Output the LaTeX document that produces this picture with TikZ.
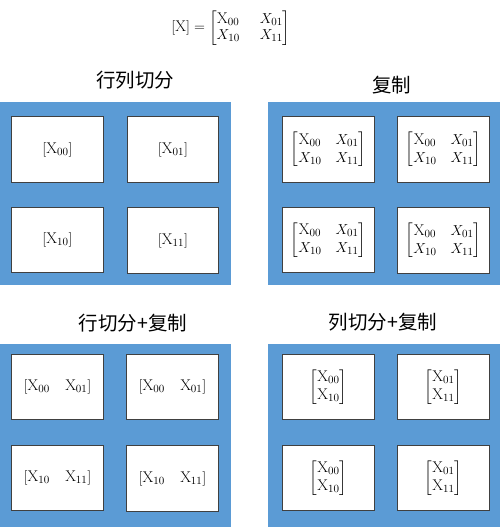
\documentclass[tikz,border=0pt]{standalone}
\usepackage{amsmath}
\usepackage{fontspec}
\newfontfamily\cjk{Noto Sans CJK SC}
\definecolor{panelblue}{HTML}{5B9BD5}
\definecolor{boxline}{HTML}{404040}
\begin{document}
\begin{tikzpicture}[x=1pt,y=-1pt,
  panel/.style={fill=panelblue,draw=none},
  cell/.style={draw=boxline,line width=1pt,fill=white,minimum width=91.5pt,minimum height=65.5pt,inner sep=0pt,
    font=\fontsize{15.5}{18}\selectfont\setlength{\arraycolsep}{7pt}},
  title/.style={font=\cjk\fontsize{19.5}{22}\selectfont,inner sep=0pt},
  formula/.style={font=\fontsize{15.5}{18}\selectfont\setlength{\arraycolsep}{10pt}\renewcommand{\arraystretch}{0.9},inner sep=0pt}]
\useasboundingbox (0,0) rectangle (500,527);
% top formula
\node[formula] (eq) at (231,28) {$[\mathrm{X}]=\begin{bmatrix}\mathrm{X}_{00} & X_{01}\\ X_{10} & X_{11}\end{bmatrix}$};
% titles
\node[title] (t1) at (135,80) {行列切分};
\node[title] (t2) at (391.5,85) {复制};
\node[title] (t3) at (133,323) {行切分+复制};
\node[title] (t4) at (383,322) {列切分+复制};
% panels
\fill[panel] (0,101.7) rectangle (231,284.5);
\fill[panel] (268.3,101.7) rectangle (500,284.5);
\fill[panel] (0,343.5) rectangle (231,527);
\fill[panel] (268.3,343.5) rectangle (500,527);
% panel 1
\node[cell] (a1) at (57.5,149.5) {$[\mathrm{X}_{00}]$};
\node[cell] (a2) at (173,149.5) {$[\mathrm{X}_{01}]$};
\node[cell] (a3) at (57.5,239.8) {$[\mathrm{X}_{10}]$};
\node[cell] (a4) at (173,240.5) {$[\mathrm{X}_{11}]$};
% panel 2
\node[cell] (b1) at (328.5,149.5) {$\begin{bmatrix}\mathrm{X}_{00} & X_{01}\\ X_{10} & X_{11}\end{bmatrix}$};
\node[cell] (b2) at (443.5,149.5) {$\begin{bmatrix}\mathrm{X}_{00} & X_{01}\\ X_{10} & X_{11}\end{bmatrix}$};
\node[cell] (b3) at (328.5,239.8) {$\begin{bmatrix}\mathrm{X}_{00} & X_{01}\\ X_{10} & X_{11}\end{bmatrix}$};
\node[cell] (b4) at (443.5,240.5) {$\begin{bmatrix}\mathrm{X}_{00} & X_{01}\\ X_{10} & X_{11}\end{bmatrix}$};
% panel 3
\node[cell] (c1) at (57.5,387.2) {$[\mathrm{X}_{00}\quad\mathrm{X}_{01}]$};
\node[cell] (c2) at (172.5,387.2) {$[\mathrm{X}_{00}\quad\mathrm{X}_{01}]$};
\node[cell] (c3) at (57.5,478) {$[\mathrm{X}_{10}\quad\mathrm{X}_{11}]$};
\node[cell] (c4) at (172.5,478.5) {$[\mathrm{X}_{10}\quad\mathrm{X}_{11}]$};
% panel 4
\node[cell] (d1) at (328.5,387.2) {$\begin{bmatrix}\mathrm{X}_{00}\\ \mathrm{X}_{10}\end{bmatrix}$};
\node[cell] (d2) at (443.5,387.2) {$\begin{bmatrix}\mathrm{X}_{01}\\ \mathrm{X}_{11}\end{bmatrix}$};
\node[cell] (d3) at (328.5,478) {$\begin{bmatrix}\mathrm{X}_{00}\\ \mathrm{X}_{10}\end{bmatrix}$};
\node[cell] (d4) at (443.5,478) {$\begin{bmatrix}\mathrm{X}_{01}\\ \mathrm{X}_{11}\end{bmatrix}$};
\end{tikzpicture}
\end{document}
